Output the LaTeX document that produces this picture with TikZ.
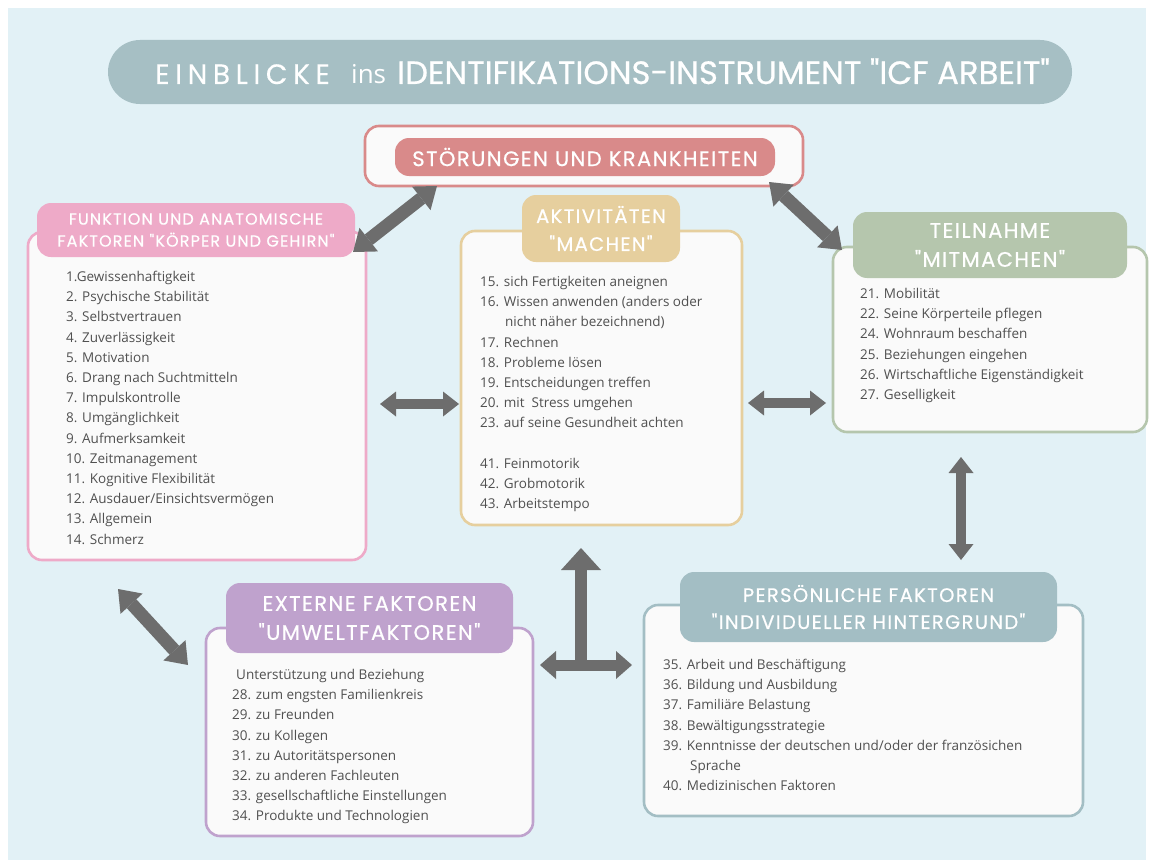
\documentclass[tikz,border=0pt]{standalone}
\usepackage{fontspec}
\setmainfont{Open Sans}
\newfontfamily\headfont[LetterSpace=7,FakeBold=0.6]{Poppins}
\newfontfamily\titlefont[FakeBold=0.6]{Poppins}
\newfontfamily\spacedfont[LetterSpace=20,FakeBold=0.3]{Poppins}
\usetikzlibrary{arrows.meta,positioning}
\definecolor{bgblue}{HTML}{E2F1F6}
\definecolor{titlegray}{HTML}{A6BFC4}
\definecolor{boxwhite}{HTML}{FAFAFA}
\definecolor{textgray}{HTML}{505050}
\definecolor{arrowgray}{HTML}{6D6D6D}
\definecolor{redfill}{HTML}{D98A8A}
\definecolor{pinkfill}{HTML}{EEAAC8}
\definecolor{tanfill}{HTML}{E6CF9E}
\definecolor{sagefill}{HTML}{B5C6AD}
\definecolor{lilacfill}{HTML}{BFA2CD}
\definecolor{tealfill}{HTML}{A3BEC4}
\tikzset{
    box/.style={draw, fill=boxwhite, rounded corners=14pt, line width=2.6pt, inner sep=0pt},
    head/.style={text=white, rounded corners=14pt, align=center, inner sep=0pt},
    items/.style={anchor=north west, align=left, text=textgray, inner sep=0pt,
        font=\fontsize{13.5}{20.2}\selectfont},
    titletext/.style={text=white, anchor=base west, inner sep=0pt},
}
\begin{document}
\begin{tikzpicture}[x=1pt,y=-1pt]
    \useasboundingbox (0,0) rectangle (1153,867);
    \fill[white] (0,0) rectangle (1153,867);
    \fill[bgblue] (8,8) rectangle (1146,860);

    % title
    \node[fill=titlegray, rounded corners=32pt, minimum width=964pt, minimum height=64pt] (title) at (590,72) {};
    \node[titletext, font=\spacedfont\fontsize{28}{28}\selectfont] (titleleft) at (155,84) {EINBLICKE};
    \node[titletext, font=\fontsize{26}{26}\selectfont] (titleins) at (351,83) {ins};
    \node[titletext, font=\titlefont\fontsize{32.3}{32.3}\selectfont] (titleright) at (397,84) {IDENTIFIKATIONS-INSTRUMENT "ICF ARBEIT"};

    % boxes
    \node[box, draw=redfill, minimum width=438pt, minimum height=60pt] (stoer) at (584,156) {};
    \node[head, fill=redfill, minimum width=380pt, minimum height=38pt, font=\headfont\fontsize{21}{21}\selectfont] (stoerhead) at (585,157) {STÖRUNGEN UND KRANKHEITEN};

    \node[box, draw=pinkfill, minimum width=338pt, minimum height=328pt] (funk) at (197,396) {};
    \node[head, fill=pinkfill, minimum width=318pt, minimum height=54pt, font=\headfont\fontsize{16}{22}\selectfont] (funkhead) at (196,230) {FUNKTION UND ANATOMISCHE\\FAKTOREN "KÖRPER UND GEHIRN"};
    \node[items] (funkitems) at (66,271) {1.Gewissenhaftigkeit\\2. Psychische Stabilität\\3. Selbstvertrauen\\4. Zuverlässigkeit\\5. Motivation\\6. Drang nach Suchtmitteln\\7. Impulskontrolle\\8. Umgänglichkeit\\9. Aufmerksamkeit\\10. Zeitmanagement\\11. Kognitive Flexibilität\\12. Ausdauer/Einsichtsvermögen\\13. Allgemein\\14. Schmerz};

    \node[box, draw=tanfill, minimum width=281pt, minimum height=294pt] (akt) at (601.5,378) {};
    \node[head, fill=tanfill, minimum width=158pt, minimum height=67pt, font=\headfont\fontsize{19.5}{28}\selectfont] (akthead) at (601,228.5) {AKTIVITÄTEN\\"MACHEN"};
    \node[items] (aktitems) at (480,276) {15. sich Fertigkeiten aneignen\\16. Wissen anwenden (anders oder\\\hspace*{25pt}nicht näher bezeichnend)\\17. Rechnen\\18. Probleme lösen\\19. Entscheidungen treffen\\20. mit\ \ Stress umgehen\\23. auf seine Gesundheit achten\\[20.2pt]41. Feinmotorik\\42. Grobmotorik\\43. Arbeitstempo};

    \node[box, draw=sagefill, minimum width=314pt, minimum height=185pt] (teil) at (990,339.5) {};
    \node[head, fill=sagefill, minimum width=274pt, minimum height=66pt, font=\headfont\fontsize{21}{29}\selectfont] (teilhead) at (990,245) {TEILNAHME\\"MITMACHEN"};
    \node[items] (teilitems) at (860,288) {21. Mobilität\\22. Seine Körperteile pflegen\\24. Wohnraum beschaffen\\25. Beziehungen eingehen\\26. Wirtschaftliche Eigenständigkeit\\27. Geselligkeit};

    \node[box, draw=lilacfill, minimum width=327pt, minimum height=208pt] (ext) at (369.5,732) {};
    \node[head, fill=lilacfill, minimum width=287pt, minimum height=70pt, font=\headfont\fontsize{21}{29}\selectfont] (exthead) at (369.5,618) {EXTERNE FAKTOREN\\"UMWELTFAKTOREN"};
    \node[items] (extitems) at (232,669) {\hspace*{4pt}Unterstützung und Beziehung\\28. zum engsten Familienkreis\\29. zu Freunden\\30. zu Kollegen\\31. zu Autoritätspersonen\\32. zu anderen Fachleuten\\33. gesellschaftliche Einstellungen\\34. Produkte und Technologien};

    \node[box, draw=tealfill, minimum width=439pt, minimum height=211pt] (pers) at (863.5,710.5) {};
    \node[head, fill=tealfill, minimum width=377pt, minimum height=70pt, font=\headfont\fontsize{19.5}{27}\selectfont] (pershead) at (868.5,607) {PERSÖNLICHE FAKTOREN\\"INDIVIDUELLER HINTERGRUND"};
    \node[items] (persitems) at (663,659) {35. Arbeit und Beschäftigung\\36. Bildung und Ausbildung\\37. Familiäre Belastung\\38. Bewältigungsstrategie\\39. Kenntnisse der deutschen und/oder der französichen\\\hspace*{27pt}Sprache\\40. Medizinischen Faktoren};

    % arrow ends
    \coordinate (sf1) at (437,186);
    \coordinate (sf2) at (353,252);
    \coordinate (st1) at (769,182);
    \coordinate (st2) at (842,250);
    \coordinate (fa1) at (380,404);
    \coordinate (fa2) at (459,404);
    \coordinate (at1) at (748,403);
    \coordinate (at2) at (826,403);
    \coordinate (tp1) at (961,457);
    \coordinate (tp2) at (961,560);
    \coordinate (fe1) at (118,589);
    \coordinate (fe2) at (188,665);
    \coordinate (up1) at (581,665);
    \coordinate (up2) at (581,548);
    \coordinate (ep1) at (540,665);
    \coordinate (ep2) at (632,665);

    \begin{scope}
        \tikzstyle{every edge}=[draw=arrowgray, line width=10pt, {Triangle[width=25pt,length=16pt,line width=0pt]}-{Triangle[width=25pt,length=16pt,line width=0pt]}]
        \path
        (fa1) edge (fa2)
        (at1) edge (at2)
        (tp1) edge (tp2)
        (ep1) edge[line width=11pt, {Triangle[width=28pt,length=16pt,line width=0pt]}-{Triangle[width=28pt,length=16pt,line width=0pt]}] (ep2)
        (up1) edge[line width=12pt, -{Triangle[width=40pt,length=22pt,line width=0pt]}] (up2)
        (sf1) edge[line width=13pt, {Triangle[width=30pt,length=20pt,line width=0pt]}-{Triangle[width=30pt,length=20pt,line width=0pt]}] (sf2)
        (st1) edge[line width=13pt, {Triangle[width=30pt,length=20pt,line width=0pt]}-{Triangle[width=30pt,length=20pt,line width=0pt]}] (st2)
        (fe1) edge[line width=13pt, {Triangle[width=30pt,length=20pt,line width=0pt]}-{Triangle[width=30pt,length=20pt,line width=0pt]}] (fe2);
    \end{scope}
\end{tikzpicture}
\end{document}
